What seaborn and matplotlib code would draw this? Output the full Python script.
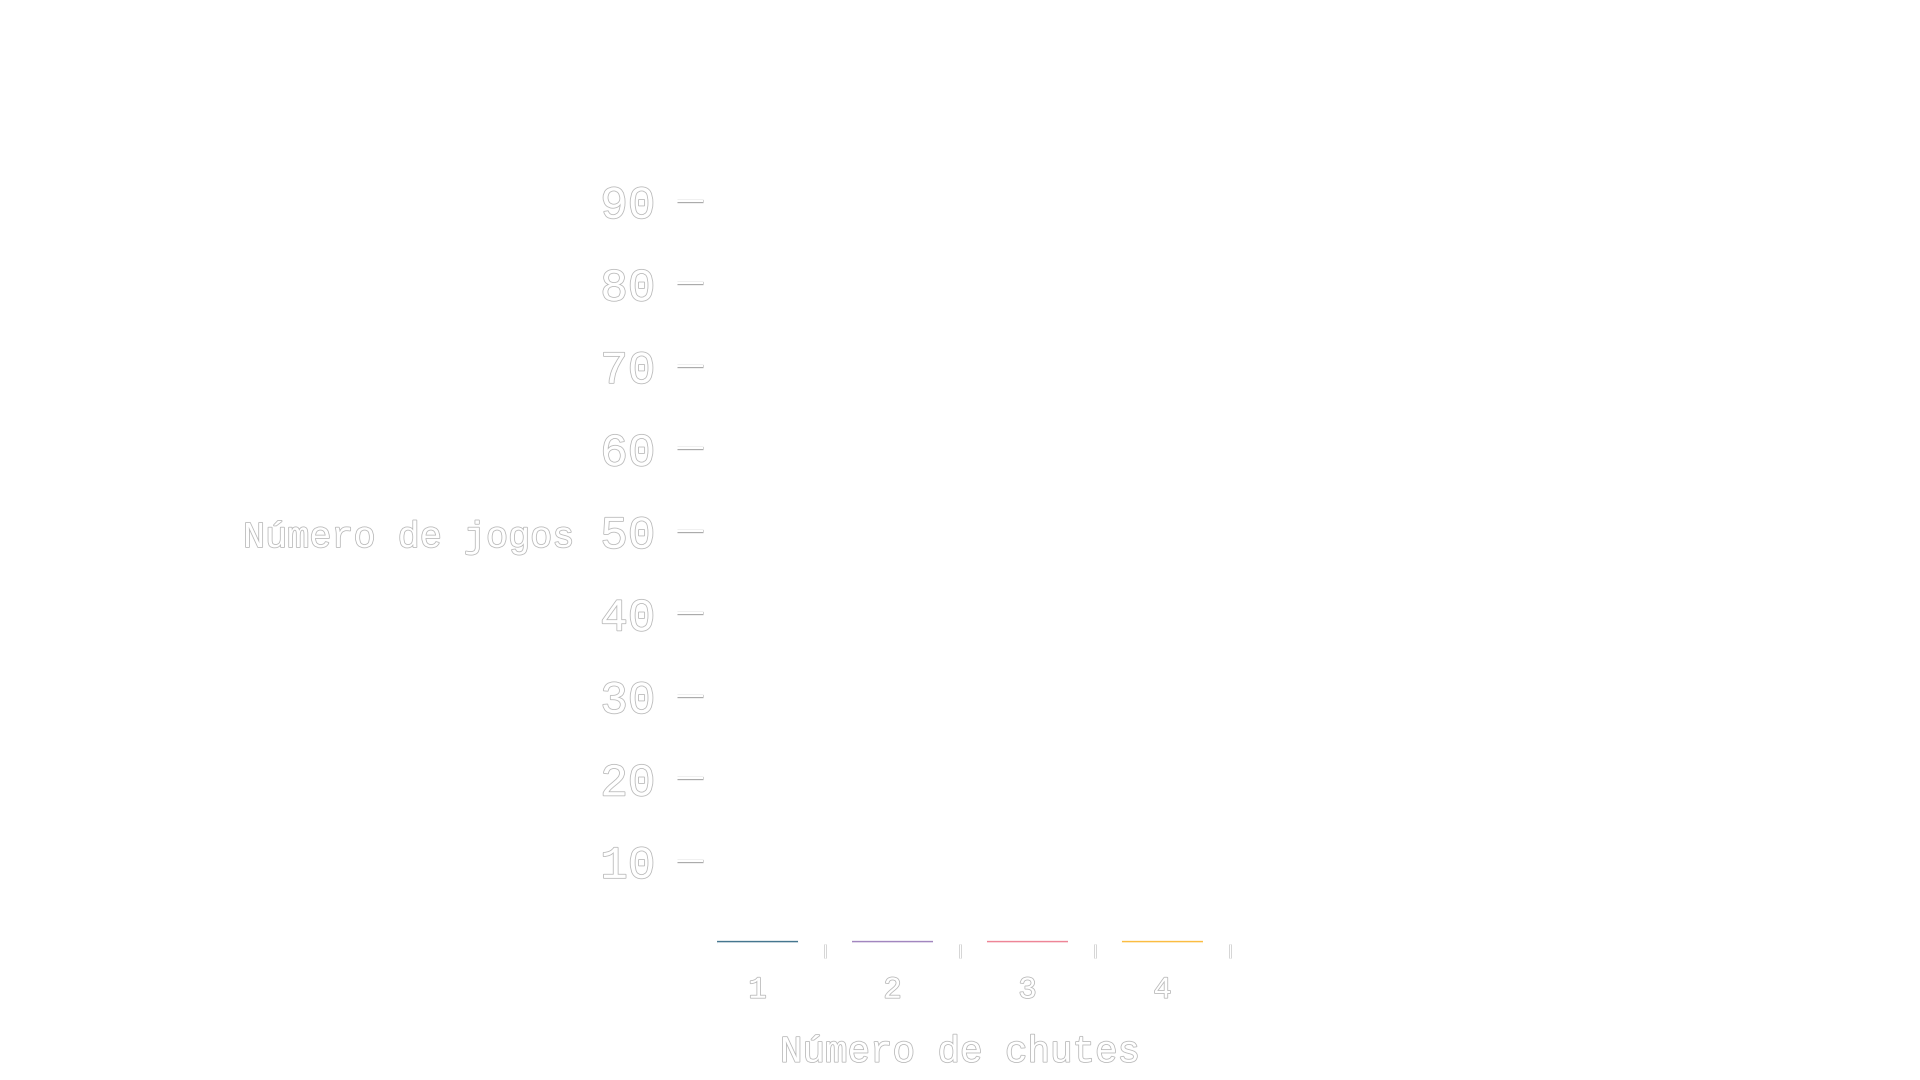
import numpy as np
import pandas as pd
import matplotlib
matplotlib.use("Agg")
import matplotlib.pyplot as plt
import matplotlib.patheffects as pe
import seaborn as sns

# data (bars sit at zero)
chutes = ["1", "2", "3", "4"]
jogos = [0, 0, 0, 0]
bar_colors = ["#45768f", "#a286bf", "#ee8597", "#fbbd42"]
y_ticks = [10, 20, 30, 40, 50, 60, 70, 80, 90]

sns.set_style("white")
plt.rcParams["font.family"] = ["Liberation Mono", "DejaVu Sans"]

# white glyphs with a faint grey rim, as in the reference
text_fx = [pe.Stroke(linewidth=1.2, foreground="#bababa"), pe.Normal()]
tick_fx = [pe.Stroke(linewidth=2.4, foreground="#a8a8a8"), pe.Normal()]
xtick_fx = [pe.Stroke(linewidth=1.8, foreground="#bdbdbd"), pe.Normal()]

df = pd.DataFrame({"chutes": chutes, "jogos": jogos})

fig = plt.figure(figsize=(19.2, 10.8), dpi=100)
ax = fig.add_axes([0.3594, 0.1257, 0.2812, 0.7486])

sns.barplot(data=df, x="chutes", y="jogos", hue="chutes", palette=bar_colors,
            legend=False, width=0.6, ax=ax)

# zero-height bars: coloured rim around a white core
for p, c in zip(ax.patches, bar_colors):
    p.set_facecolor("white")
    p.set_edgecolor(c)
    p.set_joinstyle("bevel")
    p.set_capstyle("butt")
    p.set_snap(False)
    p.set_path_effects([pe.Stroke(linewidth=3.7, foreground=c),
                        pe.Stroke(linewidth=1.6, foreground="white")])

ax.set_xlim(-0.5, 3.5)
ax.set_ylim(-0.1, 97.9)
ax.set_yticks(y_ticks)
ax.set_yticklabels([str(v) for v in y_ticks])
ax.set_xticks(range(len(chutes)))
ax.set_xticklabels(chutes)
ax.set_xticks(np.arange(0.5, 4.0, 1.0), minor=True)

sns.despine(ax=ax, left=True, bottom=True)
ax.grid(False)

ax.tick_params(axis="y", direction="inout", length=19, width=1.5, color="white",
               pad=15.5, labelsize=33, labelcolor="white", left=True)
ax.tick_params(axis="x", which="major", length=0, pad=22, labelsize=22,
               labelcolor="white")
ax.tick_params(axis="x", which="minor", direction="out", length=10, width=1.0,
               color="white", bottom=True)

for t in ax.yaxis.get_major_ticks():
    t.tick1line.set_path_effects(tick_fx)
for t in ax.xaxis.get_minor_ticks():
    t.tick1line.set_path_effects(xtick_fx)
for lbl in ax.get_yticklabels() + ax.get_xticklabels():
    lbl.set_path_effects(text_fx)

ax.set_xlabel("Número de chutes", fontsize=27, color="white", va="center",
              path_effects=text_fx)
ax.xaxis.set_label_coords(0.5, -0.133)
ax.set_ylabel("Número de jogos", fontsize=26.5, color="white", rotation=0,
              ha="right", va="center", path_effects=text_fx)
ax.yaxis.set_label_coords(-0.2167, 0.503)

fig.savefig("out.png", dpi=100, facecolor="white")
